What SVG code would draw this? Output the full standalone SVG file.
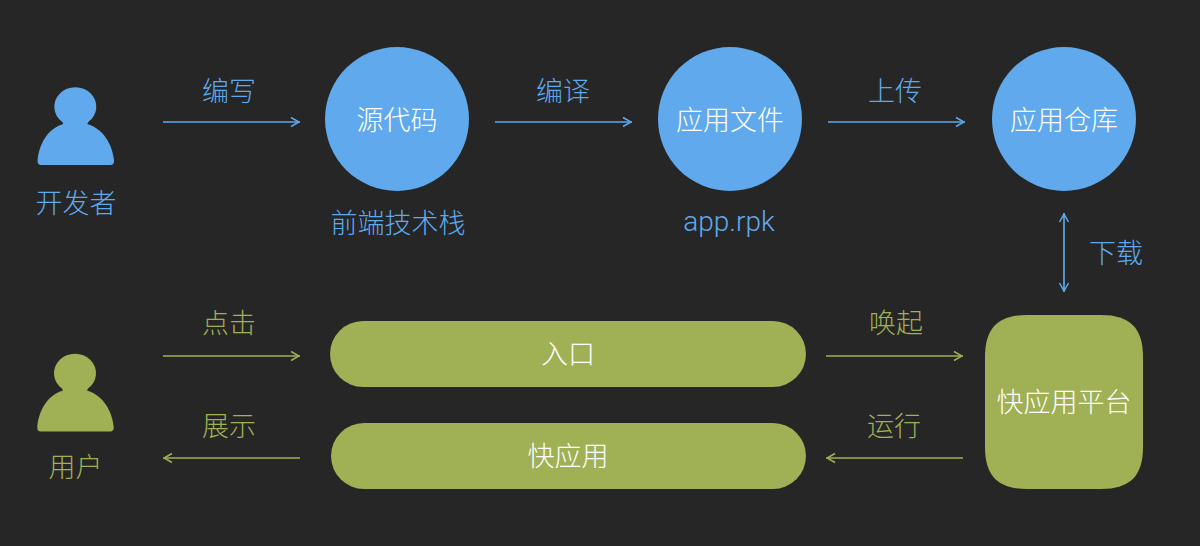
<svg xmlns="http://www.w3.org/2000/svg" width="1200" height="546" viewBox="0 0 1200 546">
<style>
text{font-family:"Noto Sans CJK SC","Noto Sans",sans-serif;font-size:27px;font-weight:300;text-anchor:middle}
.b{fill:#5ea9ec}.g{fill:#9fb055}.w{fill:#fff}
.lb{stroke:#5ea9ec;stroke-width:1.7;fill:none}.lg{stroke:#9fb055;stroke-width:1.7;fill:none}
.c{fill:#5fa9ec}.r{fill:#9fb055}
</style>
<defs>
<marker id="ab" viewBox="0 0 10 12" refX="10" refY="6" markerWidth="10" markerHeight="12" markerUnits="userSpaceOnUse" orient="auto-start-reverse"><path d="M1 1.5L9 6L1 10.500" fill="none" stroke="#5ea9ec" stroke-width="1.500"/></marker>
<marker id="ag" viewBox="0 0 10 12" refX="10" refY="6" markerWidth="10" markerHeight="12" markerUnits="userSpaceOnUse" orient="auto-start-reverse"><path d="M1 1.5L9 6L1 10.500" fill="none" stroke="#9fb055" stroke-width="1.500"/></marker>
<path id="person" d="M-13 -2A21 19.500 0 1 1 13 -2L12 0C28 5 37 20 38.700 36Q39.200 41 35 41H-34Q-38.200 41 -37.700 36C-36 20 -28 5 -12 0Z"/>
</defs>
<rect width="1200" height="546" fill="#262626"/>
<g id="connectors">
<path class="lb" d="M163 122H300" marker-end="url(#ab)"/>
<path class="lb" d="M495 122H632" marker-end="url(#ab)"/>
<path class="lb" d="M828 122H965" marker-end="url(#ab)"/>
<path class="lb" d="M1064 213V292" marker-start="url(#ab)" marker-end="url(#ab)"/>
<path class="lg" d="M163 356H300" marker-end="url(#ag)"/>
<path class="lg" d="M300 458H163" marker-end="url(#ag)"/>
<path class="lg" d="M826 356H963" marker-end="url(#ag)"/>
<path class="lg" d="M963 458H826" marker-end="url(#ag)"/>
</g>
<g id="edge-labels">
<text class="b" x="229" y="101">编写</text>
<text class="b" x="563" y="101">编译</text>
<text class="b" x="895" y="101">上传</text>
<text class="b" x="1116" y="263">下载</text>
<text class="g" x="229" y="333">点击</text>
<text class="g" x="229" y="436">展示</text>
<text class="g" x="896" y="333">唤起</text>
<text class="g" x="894" y="436">运行</text>
</g>
<g id="developer"><use href="#person" x="75.300" y="124" class="c"/><text class="b" x="76" y="213">开发者</text></g>
<g id="source"><circle cx="397" cy="119" r="72" class="c"/><text class="w" x="397" y="130">源代码</text><text class="b" x="398" y="233">前端技术栈</text></g>
<g id="appfile"><circle cx="730" cy="119" r="72" class="c"/><text class="w" x="730" y="130">应用文件</text><text class="b" x="729" y="231" style="font-family:Roboto,'Liberation Sans',sans-serif;font-size:28px">app.rpk</text></g>
<g id="repo"><circle cx="1064" cy="119" r="72" class="c"/><text class="w" x="1064" y="130">应用仓库</text></g>
<g id="user"><use href="#person" x="75" y="390.500" class="r"/><text class="g" x="75.500" y="477">用户</text></g>
<g id="entry"><rect x="330" y="321" width="476" height="66" rx="33" class="r"/><text class="w" x="568" y="364">入口</text></g>
<g id="quickapp"><rect x="331" y="423" width="475" height="66" rx="33" class="r"/><text class="w" x="568" y="466">快应用</text></g>
<g id="platform"><path class="r" d="M1027 315H1101C1130 315 1143 328 1143 357V447C1143 476 1130 489 1101 489H1027C998 489 985 476 985 447V357C985 328 998 315 1027 315Z"/><text class="w" x="1064" y="412">快应用平台</text></g>
</svg>
